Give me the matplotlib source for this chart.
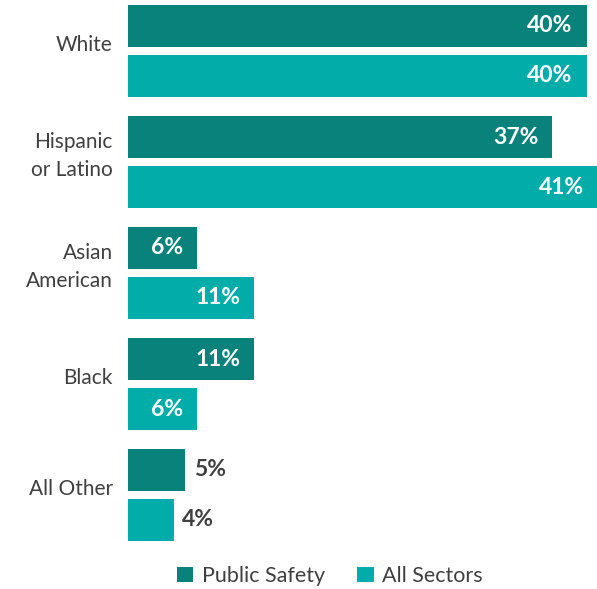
import matplotlib
matplotlib.use("Agg")
import matplotlib.pyplot as plt
from matplotlib.patches import Patch

categories = ["White", "Hispanic\nor Latino", "Asian\nAmerican", "Black", "All Other"]
public_safety = [40, 37, 6, 11, 5]
all_sectors = [40, 41, 11, 6, 4]
series_names = ["Public Safety", "All Sectors"]
colors = ["#08827a", "#02aca8"]
text_dark = "#404040"

W, H = 597, 589
fig = plt.figure(figsize=(W / 100, H / 100), dpi=100)
ax = fig.add_axes([128 / W, 1 - 550 / H, 1 - 128 / W, 550 / H])
ax.set_xlim(0, 40.9)
ax.set_ylim(550, 0)
ax.axis("off")

font = "Lato"
group_gap = 111
first_center = 51
bar_h = 42
offset = 25

for i, cat in enumerate(categories):
    c = first_center + group_gap * i
    for j, (vals, col) in enumerate(((public_safety, colors[0]), (all_sectors, colors[1]))):
        y = c - offset if j == 0 else c + offset
        v = vals[i]
        ax.barh(y, v, height=bar_h, color=col, edgecolor="none")
        label = f"{v}%"
        if v >= 6:
            ax.annotate(label, (v, y), xytext=(-10, 0), textcoords="offset points",
                        ha="right", va="center", color="white", fontsize=16.5,
                        fontweight="bold", family=font, annotation_clip=False)
        else:
            ax.annotate(label, (v, y), xytext=(6, 0), textcoords="offset points",
                        ha="left", va="center", color=text_dark, fontsize=16.5,
                        fontweight="bold", family=font, annotation_clip=False)
    ax.annotate(cat, (0, c - 6), xytext=(-11, 0), textcoords="offset points",
                ha="right", va="center", color=text_dark, fontsize=15,
                family=font, linespacing=1.45, annotation_clip=False)

handles = [Patch(facecolor=colors[0], label=series_names[0]),
           Patch(facecolor=colors[1], label=series_names[1])]
leg = fig.legend(handles=handles, loc="center", bbox_to_anchor=(330 / W, 1 - 576 / H),
                 ncol=2, frameon=False, handlelength=0.75, handleheight=0.75,
                 columnspacing=1.5, handletextpad=0.4, borderpad=0, borderaxespad=0,
                 prop={"family": font, "size": 15.5})
for t in leg.get_texts():
    t.set_color(text_dark)

fig.savefig("out.png", dpi=100)
